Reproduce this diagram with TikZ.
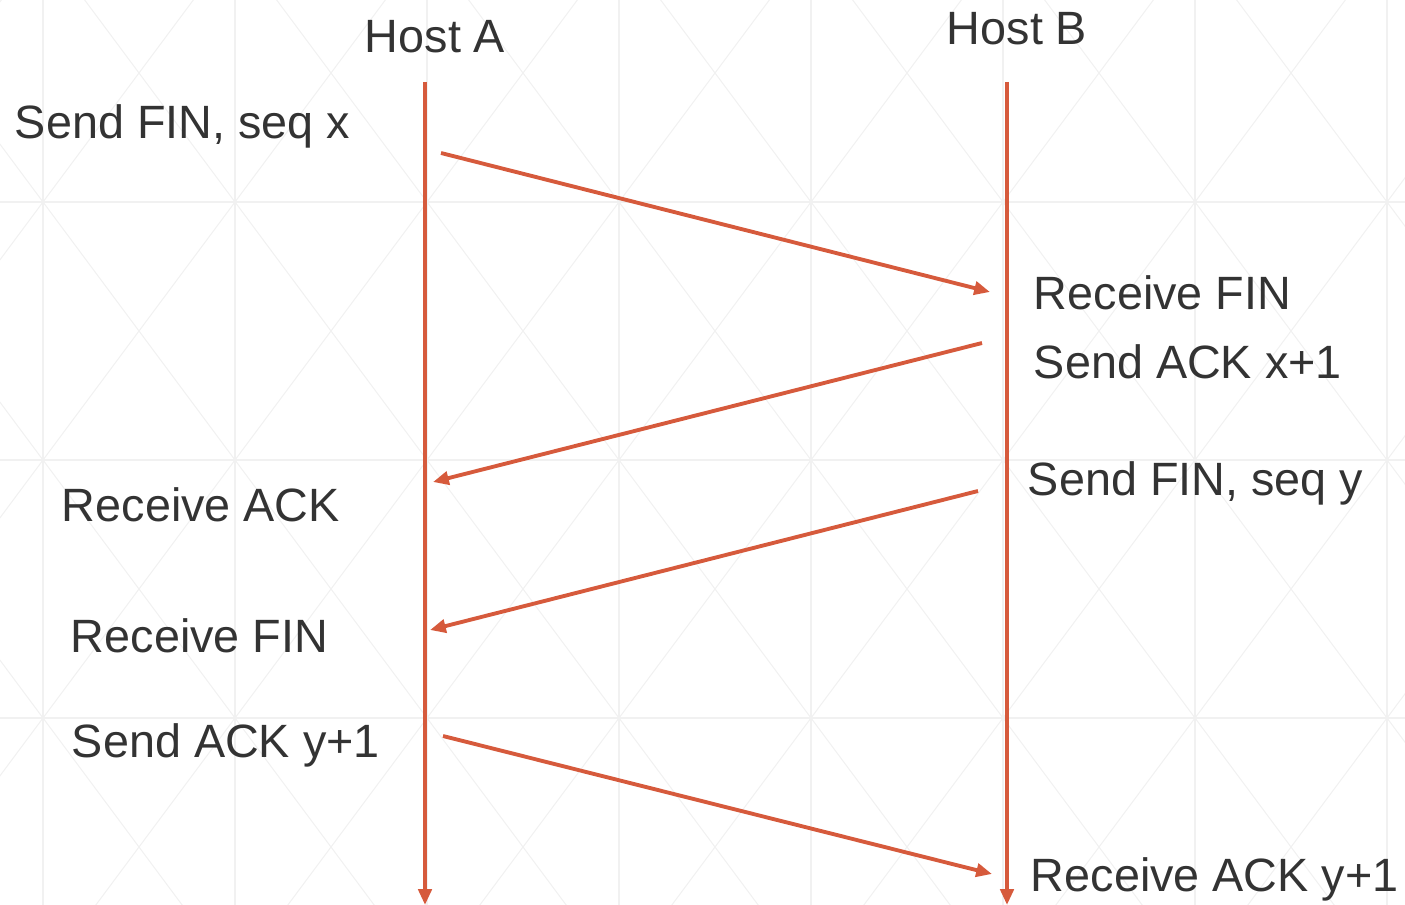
\documentclass[tikz,border=0pt]{standalone}
\usepackage{fontspec}
\setmainfont{Liberation Sans}
\usetikzlibrary{arrows.meta}

\definecolor{lifeline}{HTML}{D65A3C}
\definecolor{labeltext}{HTML}{333333}
\definecolor{gridline}{HTML}{F1F1F1}

\begin{document}
\begin{tikzpicture}[
    x=0.02cm, y=-0.02cm,
    >={Triangle[length=9pt,width=7.5pt]},
    font=\fontsize{26.6}{32}\selectfont,
    line width=2.2pt,
    msg/.style={->, draw=lifeline, line width=2.2pt},
    lbl/.style={anchor=base west, inner sep=0pt, text=labeltext}
]

    \useasboundingbox (0,0) rectangle (1405,905);

    % Background grid
    \begin{scope}
        \clip (0,0) rectangle (1405,905);
        \foreach \i in {-1,...,7} {
            \foreach \j in {0,...,3} {
                \draw[gridline, line width=0.6pt]
                    (43+192*\i, -56+258*\j) -- (235+192*\i, 202+258*\j)
                    (235+192*\i, -56+258*\j) -- (43+192*\i, 202+258*\j);
            }
        }
        \foreach \i in {0,...,7}
            \draw[gridline, line width=0.7pt] (43+192*\i, 0) -- (43+192*\i, 905);
        \foreach \j in {1,...,3}
            \draw[gridline, line width=0.7pt] (0, -56+258*\j) -- (1405, -56+258*\j);
    \end{scope}

    % Hosts
    \node[lbl] (hostA) at (363, 53) {Host A};
    \node[lbl] (hostB) at (945, 45) {Host B};

    % Lifelines
    \coordinate (atop) at (425, 82);
    \coordinate (abot) at (425, 905);
    \coordinate (btop) at (1007, 82);
    \coordinate (bbot) at (1007, 905);
    \draw[msg] (atop) -- (abot);
    \draw[msg] (btop) -- (bbot);

    % Message end points
    \coordinate (m1s) at (441, 153);
    \coordinate (m1e) at (990, 292);
    \coordinate (m2s) at (982, 343);
    \coordinate (m2e) at (433, 482);
    \coordinate (m3s) at (978, 491);
    \coordinate (m3e) at (430, 630);
    \coordinate (m4s) at (443, 736);
    \coordinate (m4e) at (992, 874);

    % Messages
    \draw[msg] (m1s) -- (m1e);
    \draw[msg] (m2s) -- (m2e);
    \draw[msg] (m3s) -- (m3e);
    \draw[msg] (m4s) -- (m4e);

    % Left labels (Host A)
    \node[lbl] (sendfinx) at (13, 139) {Send FIN, seq x};
    \node[lbl] (recvackA) at (60, 521) {Receive ACK};
    \node[lbl] (recvfinA) at (69, 652) {Receive FIN};
    \node[lbl] (sendacky) at (70, 757) {Send ACK y+1};

    % Right labels (Host B)
    \node[lbl] (recvfinB) at (1032, 310) {Receive FIN};
    \node[lbl] (sendackx) at (1032, 378) {Send ACK x+1};
    \node[lbl] (sendfiny) at (1026, 495) {Send FIN, seq y};
    \node[lbl] (recvacky) at (1029, 891) {Receive ACK y+1};

\end{tikzpicture}
\end{document}
